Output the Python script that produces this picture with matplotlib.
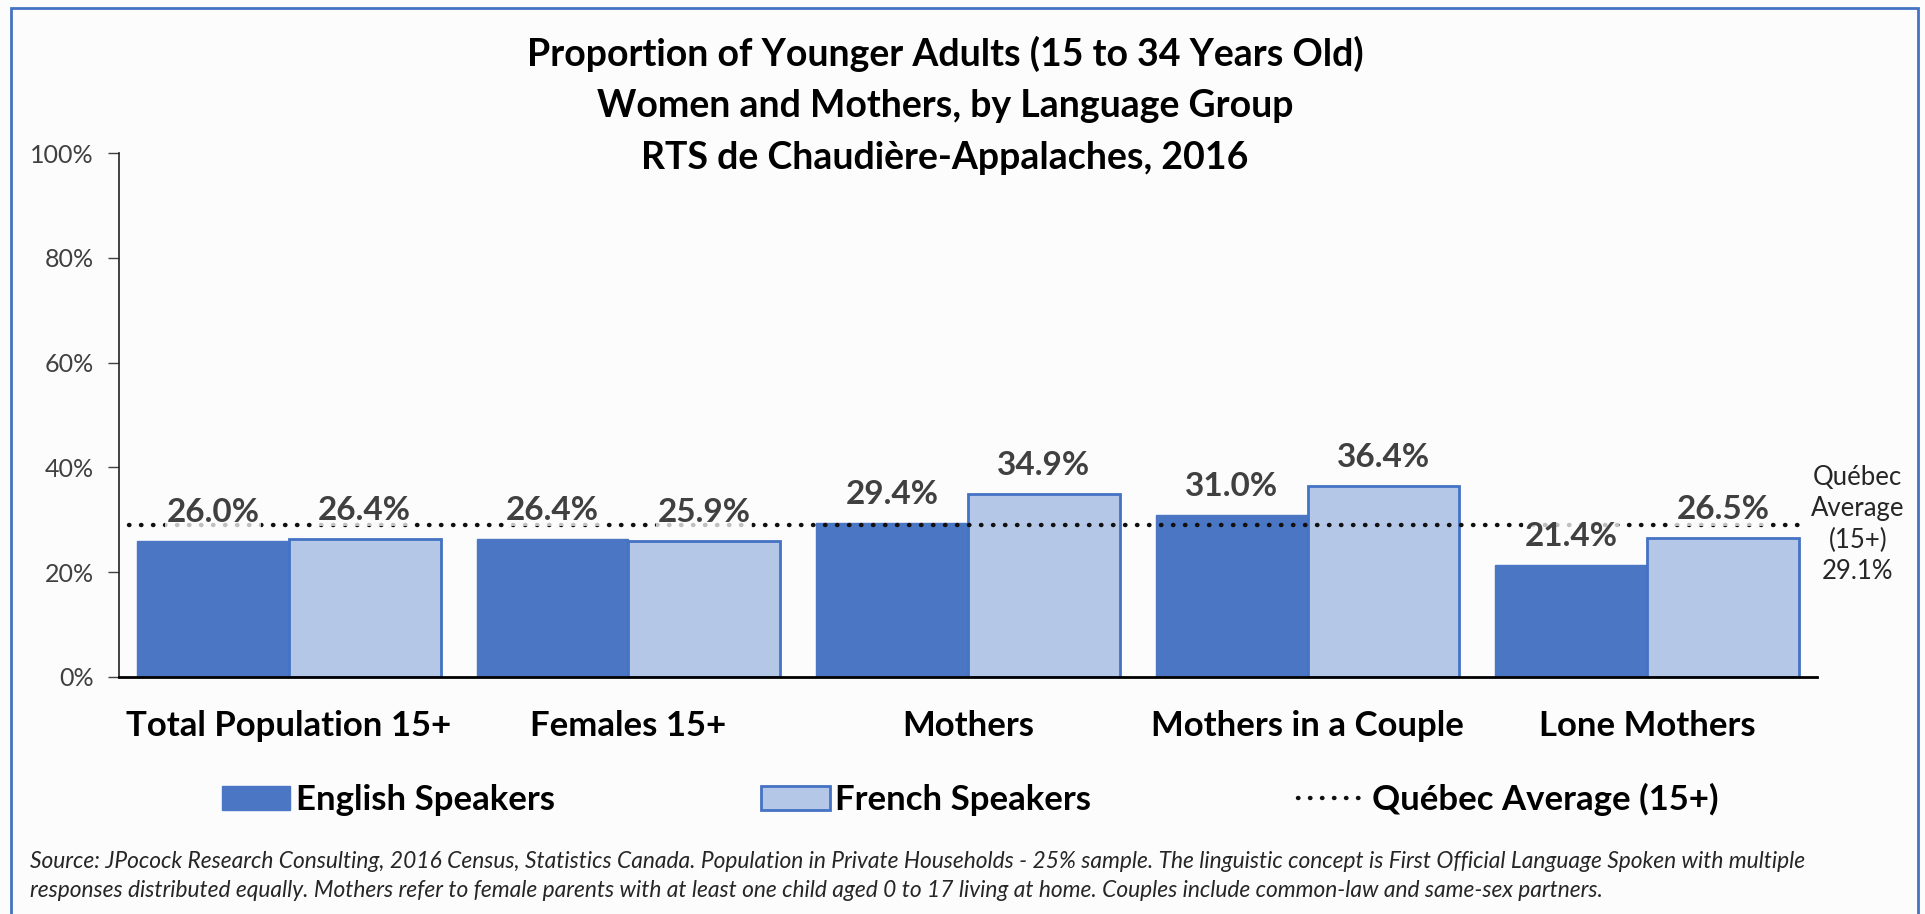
import matplotlib.pyplot as plt
from matplotlib.patches import Rectangle, Patch
from matplotlib.lines import Line2D
import numpy as np

# data
categories = ['Total Population 15+', 'Females 15+', 'Mothers', 'Mothers in a Couple', 'Lone Mothers']
english = [26.0, 26.4, 29.4, 31.0, 21.4]
french = [26.4, 25.9, 34.9, 36.4, 26.5]
quebec_avg = 29.1
yticks = [0, 20, 40, 60, 80, 100]

title = ('Proportion of Younger Adults (15 to 34 Years Old)\n'
         'Women and Mothers, by Language Group\n'
         'RTS de Chaudière-Appalaches, 2016')
source = ('Source: JPocock Research Consulting, 2016 Census, Statistics Canada. Population in Private Households - 25% sample. '
          'The linguistic concept is First Official Language Spoken with multiple\n'
          'responses distributed equally. Mothers refer to female parents with at least one child aged 0 to 17 living at home. '
          'Couples include common-law and same-sex partners.')

eng_col = '#4A76C4'
fr_col = '#B4C7E7'
edge_col = '#4472C4'
bg = '#fcfcfc'

plt.rcParams['font.family'] = ['Lato', 'DejaVu Sans']

fig = plt.figure(figsize=(19.25, 9.14), dpi=100, facecolor=bg)
ax = fig.add_axes([0.0618, 0.2593, 0.8821, 0.5733], facecolor=bg)

x = np.arange(len(categories))
w = 0.447
ax.bar(x - w / 2, english, w, color=eng_col, edgecolor=eng_col, linewidth=1, zorder=2)
ax.bar(x + w / 2, french, w, color=fr_col, edgecolor=edge_col, linewidth=2, zorder=2)

# quebec average dotted line
ax.hlines(quebec_avg, -0.47, 4.45, colors='#111111', linestyles=(0, (0.1, 2.6)),
          linewidth=3.2, capstyle='round', zorder=3)

# data labels
for xs, vals in ((x - w / 2, english), (x + w / 2, french)):
    for xi, v in zip(xs, vals):
        ax.annotate(f'{v:.1f}%', (xi, v), xytext=(0, 10), textcoords='offset points',
                    ha='center', va='bottom', fontsize=24, fontweight='bold', color='#404040',
                    bbox=dict(boxstyle='square,pad=0.05', facecolor=bg, edgecolor='none', alpha=0.75),
                    zorder=4)

ax.text(1.024, quebec_avg, f'Québec\nAverage\n(15+)\n{quebec_avg:.1f}%', transform=ax.get_yaxis_transform(),
        ha='center', va='center', fontsize=18.5, color='#262626', linespacing=1.3)

ax.set_xlim(-0.5, 4.5)
ax.set_ylim(0, 100)
ax.set_yticks(yticks)
ax.set_yticklabels([f'{t}%' for t in yticks], fontsize=18, color='#404040')
ax.set_xticks(x)
ax.set_xticklabels(categories, fontsize=25, fontweight='bold', color='black')
ax.tick_params(axis='x', length=0, pad=24)
ax.tick_params(axis='y', length=8, width=1, pad=10, color='#404040')
for s in ('top', 'right'):
    ax.spines[s].set_visible(False)
ax.spines['left'].set_color('#222222')
ax.spines['left'].set_linewidth(1.2)
ax.spines['bottom'].set_color('black')
ax.spines['bottom'].set_linewidth(2)

fig.text(0.491, 0.961, title, ha='center', va='top', fontsize=27, fontweight='bold',
         color='black', linespacing=1.62)

handles = [Patch(facecolor=eng_col, edgecolor=eng_col),
           Patch(facecolor=fr_col, edgecolor=edge_col, linewidth=2),
           Line2D([], [], color='#111111', linestyle=(0, (0.1, 2.6)), linewidth=3.2,
                  dash_capstyle='round')]
leg = fig.legend(handles, ['English Speakers', 'French Speakers', 'Québec Average (15+)'],
                 loc='center', bbox_to_anchor=(0.504, 0.125), ncol=3, frameon=False,
                 prop={'size': 25, 'weight': 'bold'}, handlelength=1.96, handleheight=0.7,
                 handletextpad=0.17, columnspacing=5.96)

fig.text(0.0156, 0.0416, source, ha='left', va='center', fontsize=16.4, style='italic',
         color='#262626', linespacing=1.5)

# chart border
fig.patches.append(Rectangle((0.0057, -0.05), 0.9906, 1.041, transform=fig.transFigure,
                             fill=False, edgecolor='#4472C4', linewidth=2))

fig.savefig('out.png', dpi=100, facecolor=bg)
